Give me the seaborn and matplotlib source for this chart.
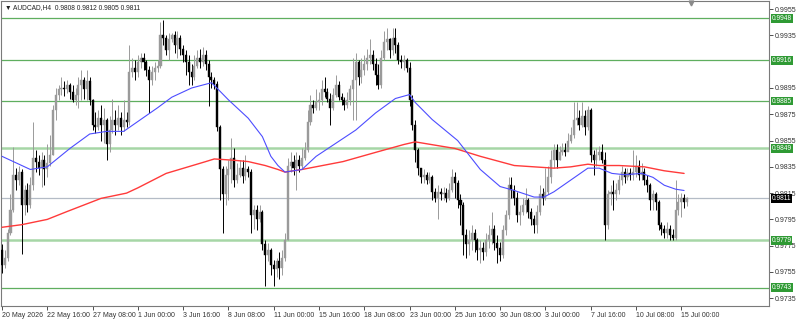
import matplotlib
matplotlib.use("Agg")
import matplotlib.pyplot as plt
import matplotlib.transforms as mtransforms
import numpy as np
import pandas as pd
import seaborn as sns

# ---------------- data ----------------
first_open = 0.9772
closes = [
    0.9760, 0.9766, 0.9785, 0.9802, 0.9829, 0.9825, 0.9831, 0.9806, 0.9817, 0.9806,
    0.9821, 0.9842, 0.9839, 0.9834, 0.9840, 0.9833, 0.9838, 0.9844, 0.9878, 0.9890,
    0.9894, 0.9895, 0.9894, 0.9897, 0.9892, 0.9886, 0.9890, 0.9897, 0.9901, 0.9894,
    0.9900, 0.9886, 0.9867, 0.9865, 0.9872, 0.9867, 0.9871, 0.9852, 0.9863, 0.9871,
    0.9867, 0.9872, 0.9865, 0.9871, 0.9869, 0.9907, 0.9910, 0.9907, 0.9915, 0.9918,
    0.9915, 0.9909, 0.9901, 0.9907, 0.9910, 0.9912, 0.9935, 0.9933, 0.9924, 0.9932,
    0.9935, 0.9928, 0.9933, 0.9925, 0.9920, 0.9915, 0.9907, 0.9903, 0.9912, 0.9918,
    0.9915, 0.9920, 0.9913, 0.9903, 0.9901, 0.9898, 0.9865, 0.9833, 0.9814, 0.9829,
    0.9833, 0.9842, 0.9825, 0.9829, 0.9834, 0.9828, 0.9833, 0.9831, 0.9798, 0.9802,
    0.9795, 0.9801, 0.9776, 0.9768, 0.9772, 0.9760, 0.9757, 0.9763, 0.9758, 0.9766,
    0.9779, 0.9836, 0.9839, 0.9834, 0.9840, 0.9836, 0.9842, 0.9848, 0.9869, 0.9882,
    0.9880, 0.9884, 0.9886, 0.9894, 0.9892, 0.9887, 0.9880, 0.9890, 0.9897, 0.9888,
    0.9886, 0.9882, 0.9886, 0.9894, 0.9901, 0.9915, 0.9903, 0.9909, 0.9913, 0.9918,
    0.9920, 0.9913, 0.9905, 0.9897, 0.9918, 0.9930, 0.9932, 0.9924, 0.9933, 0.9928,
    0.9916, 0.9915, 0.9916, 0.9910, 0.9886, 0.9867, 0.9848, 0.9834, 0.9827, 0.9829,
    0.9825, 0.9827, 0.9816, 0.9811, 0.9816, 0.9814, 0.9815, 0.9811, 0.9817, 0.9827,
    0.9823, 0.9810, 0.9806, 0.9783, 0.9776, 0.9779, 0.9785, 0.9779, 0.9772, 0.9773,
    0.9770, 0.9779, 0.9783, 0.9788, 0.9777, 0.9773, 0.9768, 0.9787, 0.9798, 0.9821,
    0.9817, 0.9811, 0.9798, 0.9801, 0.9806, 0.9810, 0.9801, 0.9795, 0.9791, 0.9801,
    0.9814, 0.9811, 0.9816, 0.9827, 0.9840, 0.9848, 0.9840, 0.9846, 0.9848, 0.9846,
    0.9855, 0.9859, 0.9871, 0.9872, 0.9867, 0.9874, 0.9865, 0.9878, 0.9844, 0.9840,
    0.9844, 0.9846, 0.9840, 0.9791, 0.9814, 0.9816, 0.9814, 0.9817, 0.9825, 0.9831,
    0.9827, 0.9830, 0.9829, 0.9831, 0.9836, 0.9829, 0.9831, 0.9825, 0.9821, 0.9810,
    0.9814, 0.9808, 0.9791, 0.9788, 0.9785, 0.9788, 0.9783, 0.9781, 0.9802, 0.9808,
    0.9811, 0.9808, 0.9811,
]
highs = [
    0.9776, 0.9772, 0.9788, 0.9814, 0.9850, 0.9834, 0.9836, 0.9833, 0.9821, 0.9823,
    0.9827, 0.9869, 0.9848, 0.9844, 0.9846, 0.9844, 0.9852, 0.9859, 0.9882, 0.9895,
    0.9897, 0.9903, 0.9900, 0.9901, 0.9899, 0.9897, 0.9895, 0.9903, 0.9909, 0.9903,
    0.9909, 0.9903, 0.9887, 0.9877, 0.9878, 0.9882, 0.9880, 0.9872, 0.9874, 0.9887,
    0.9878, 0.9882, 0.9877, 0.9886, 0.9877, 0.9928, 0.9918, 0.9916, 0.9920, 0.9922,
    0.9922, 0.9916, 0.9912, 0.9912, 0.9915, 0.9916, 0.9945, 0.9947, 0.9935, 0.9937,
    0.9937, 0.9938, 0.9938, 0.9935, 0.9928, 0.9924, 0.9920, 0.9913, 0.9920, 0.9924,
    0.9925, 0.9926, 0.9924, 0.9916, 0.9907, 0.9903, 0.9900, 0.9867, 0.9836, 0.9836,
    0.9840, 0.9857, 0.9849, 0.9838, 0.9840, 0.9840, 0.9844, 0.9836, 0.9833, 0.9806,
    0.9806, 0.9806, 0.9802, 0.9779, 0.9777, 0.9773, 0.9764, 0.9766, 0.9770, 0.9772,
    0.9785, 0.9842, 0.9846, 0.9844, 0.9846, 0.9844, 0.9849, 0.9854, 0.9878, 0.9890,
    0.9886, 0.9894, 0.9892, 0.9901, 0.9903, 0.9895, 0.9891, 0.9895, 0.9905, 0.9900,
    0.9891, 0.9888, 0.9892, 0.9897, 0.9918, 0.9922, 0.9916, 0.9918, 0.9920, 0.9925,
    0.9932, 0.9924, 0.9918, 0.9913, 0.9924, 0.9938, 0.9941, 0.9933, 0.9941, 0.9941,
    0.9930, 0.9920, 0.9920, 0.9918, 0.9915, 0.9890, 0.9871, 0.9849, 0.9834, 0.9833,
    0.9831, 0.9831, 0.9829, 0.9819, 0.9821, 0.9819, 0.9820, 0.9819, 0.9823, 0.9833,
    0.9831, 0.9825, 0.9814, 0.9808, 0.9788, 0.9787, 0.9791, 0.9788, 0.9781, 0.9779,
    0.9778, 0.9785, 0.9791, 0.9801, 0.9791, 0.9783, 0.9778, 0.9791, 0.9802, 0.9827,
    0.9827, 0.9821, 0.9816, 0.9806, 0.9811, 0.9819, 0.9811, 0.9804, 0.9798, 0.9806,
    0.9821, 0.9819, 0.9834, 0.9836, 0.9848, 0.9852, 0.9852, 0.9851, 0.9853, 0.9853,
    0.9861, 0.9865, 0.9884, 0.9884, 0.9878, 0.9884, 0.9878, 0.9881, 0.9880, 0.9848,
    0.9849, 0.9851, 0.9852, 0.9846, 0.9817, 0.9821, 0.9825, 0.9823, 0.9829, 0.9836,
    0.9834, 0.9834, 0.9834, 0.9848, 0.9844, 0.9840, 0.9838, 0.9834, 0.9829, 0.9823,
    0.9817, 0.9816, 0.9810, 0.9793, 0.9791, 0.9793, 0.9791, 0.9788, 0.9825, 0.9814,
    0.9815, 0.9814, 0.9812,
]
lows = [
    0.9754, 0.9758, 0.9763, 0.9783, 0.9801, 0.9817, 0.9821, 0.9769, 0.9798, 0.9801,
    0.9804, 0.9817, 0.9831, 0.9829, 0.9820, 0.9821, 0.9827, 0.9836, 0.9844, 0.9871,
    0.9886, 0.9890, 0.9889, 0.9891, 0.9887, 0.9884, 0.9882, 0.9880, 0.9886, 0.9887,
    0.9886, 0.9882, 0.9863, 0.9861, 0.9863, 0.9855, 0.9853, 0.9840, 0.9846, 0.9861,
    0.9859, 0.9863, 0.9859, 0.9862, 0.9865, 0.9867, 0.9903, 0.9901, 0.9903, 0.9910,
    0.9909, 0.9904, 0.9876, 0.9897, 0.9901, 0.9907, 0.9910, 0.9928, 0.9920, 0.9916,
    0.9930, 0.9922, 0.9918, 0.9920, 0.9915, 0.9905, 0.9897, 0.9897, 0.9901, 0.9910,
    0.9910, 0.9912, 0.9909, 0.9881, 0.9895, 0.9894, 0.9862, 0.9810, 0.9785, 0.9806,
    0.9810, 0.9823, 0.9820, 0.9823, 0.9827, 0.9823, 0.9825, 0.9827, 0.9785, 0.9788,
    0.9787, 0.9793, 0.9772, 0.9744, 0.9763, 0.9753, 0.9744, 0.9751, 0.9750, 0.9753,
    0.9763, 0.9779, 0.9831, 0.9829, 0.9817, 0.9831, 0.9834, 0.9840, 0.9846, 0.9867,
    0.9876, 0.9878, 0.9878, 0.9882, 0.9888, 0.9884, 0.9867, 0.9878, 0.9888, 0.9886,
    0.9882, 0.9878, 0.9880, 0.9882, 0.9871, 0.9871, 0.9897, 0.9899, 0.9905, 0.9909,
    0.9913, 0.9909, 0.9897, 0.9894, 0.9895, 0.9916, 0.9924, 0.9918, 0.9920, 0.9922,
    0.9913, 0.9910, 0.9909, 0.9907, 0.9881, 0.9863, 0.9839, 0.9829, 0.9823, 0.9823,
    0.9822, 0.9823, 0.9810, 0.9808, 0.9795, 0.9810, 0.9810, 0.9808, 0.9810, 0.9816,
    0.9811, 0.9804, 0.9791, 0.9768, 0.9766, 0.9768, 0.9772, 0.9770, 0.9764, 0.9762,
    0.9764, 0.9767, 0.9773, 0.9776, 0.9772, 0.9762, 0.9763, 0.9766, 0.9783, 0.9795,
    0.9811, 0.9806, 0.9793, 0.9791, 0.9798, 0.9800, 0.9796, 0.9791, 0.9785, 0.9785,
    0.9798, 0.9806, 0.9810, 0.9814, 0.9823, 0.9834, 0.9834, 0.9840, 0.9844, 0.9843,
    0.9848, 0.9853, 0.9857, 0.9867, 0.9863, 0.9865, 0.9859, 0.9863, 0.9839, 0.9829,
    0.9836, 0.9840, 0.9838, 0.9779, 0.9788, 0.9806, 0.9802, 0.9810, 0.9814, 0.9821,
    0.9823, 0.9825, 0.9825, 0.9825, 0.9827, 0.9825, 0.9825, 0.9821, 0.9816, 0.9802,
    0.9802, 0.9802, 0.9787, 0.9783, 0.9781, 0.9781, 0.9779, 0.9779, 0.9779, 0.9798,
    0.9797, 0.9804, 0.9805,
]

# moving averages (bar index, price)
fast_ma_bar = [0, 10, 16, 24, 31, 37, 43, 49, 55, 60, 67, 74, 75, 80, 87, 92, 95, 97.5,
               100, 106, 111, 118, 125, 132, 139, 144, 146, 152, 161, 169, 176, 181, 188,
               191.5, 195, 201, 207, 211, 215.5, 220, 226, 230, 234, 238, 241]
fast_ma_val = [0.9843, 0.9833, 0.9835, 0.9849, 0.9860, 0.9862, 0.9862, 0.9871, 0.9880,
               0.9888, 0.9895, 0.9899, 0.9897, 0.9886, 0.9872, 0.9858, 0.9843, 0.9836,
               0.9831, 0.9833, 0.9843, 0.9853, 0.9863, 0.9876, 0.9887, 0.9890, 0.9884,
               0.9871, 0.9855, 0.9833, 0.9820, 0.9817, 0.9812, 0.9812, 0.9816, 0.9825,
               0.9834, 0.9834, 0.9830, 0.9829, 0.9830, 0.9827, 0.9821, 0.9818, 0.9817]
slow_ma_bar = [0, 7, 16, 23, 35, 44, 48, 58, 72, 75, 82, 87, 93, 97.5, 100, 106, 120.5,
               132, 142, 146, 160, 169, 181, 195, 201, 207, 211, 218, 227, 234, 241]
slow_ma_val = [0.9789, 0.9791, 0.9795, 0.9801, 0.9811, 0.9815, 0.9819, 0.9830, 0.9839,
               0.9841, 0.9840, 0.9839, 0.9836, 0.9833, 0.9831, 0.9833, 0.9839, 0.9846,
               0.9852, 0.9854, 0.9849, 0.9843, 0.9836, 0.9834, 0.9835, 0.9837, 0.9836,
               0.9836, 0.9835, 0.9832, 0.9830]

level_values = [0.9948, 0.9916, 0.9885, 0.9849, 0.9779, 0.9743]
level_strong = [True, True, True, False, False, True]
current_price = 0.9811

time_labels = ["20 May 2026", "22 May 16:00", "27 May 08:00", "1 Jun 00:00", "3 Jun 16:00",
               "8 Jun 08:00", "11 Jun 00:00", "15 Jun 16:00", "18 Jun 08:00", "23 Jun 00:00",
               "25 Jun 16:00", "30 Jun 08:00", "3 Jul 00:00", "7 Jul 16:00", "10 Jul 08:00",
               "15 Jul 00:00"]
time_label_bars = [0, 16, 32, 48, 64, 80, 96, 112, 128, 144, 160, 176, 192, 208, 224, 240]
price_ticks = [0.9955, 0.9935, 0.9895, 0.9875, 0.9855, 0.9835, 0.9815, 0.9795, 0.9775,
               0.9755, 0.9735]
title_text = "\u25BC AUDCAD,H4  0.9808 0.9812 0.9805 0.9811"

# ---------------- build frame ----------------
opens = [first_open] + closes[:-1]
df = pd.DataFrame({"bar": np.arange(len(closes)), "open": opens, "high": highs,
                   "low": lows, "close": closes})
df["bull"] = df["close"] >= df["open"]

sns.set_theme(style="white")
plt.rcParams["font.family"] = ["Liberation Sans", "DejaVu Sans"]

fig = plt.figure(figsize=(8, 3.22), dpi=100)
ax = fig.add_axes([1 / 800, 16 / 322, 768 / 800, 305 / 322])
ax.set_facecolor("white")

# horizontal levels
for lv, strong in zip(level_values, level_strong):
    if strong:
        ax.axhline(lv, color="#5fae5f", lw=0.9, zorder=1)
    else:
        ax.axhline(lv, color="#a6d6a6", lw=1.8, zorder=1)
ax.axhline(current_price, color="#b4bcc6", lw=0.9, zorder=1)

# candles
bull_col = "#9a9a9a"
bear_col = "#000000"
cols = np.where(df["bull"], bull_col, bear_col)
ax.vlines(df["bar"], df["low"], df["high"], colors=cols, lw=0.7, zorder=3)
body_bottom = np.minimum(df["open"], df["close"])
body_h = np.maximum(np.abs(df["close"] - df["open"]), 0.00004)
ax.bar(df["bar"], body_h, bottom=body_bottom, width=0.72, color=cols,
       edgecolor=cols, linewidth=0.3, zorder=4)

# moving averages
fast = pd.DataFrame({"bar": fast_ma_bar, "val": fast_ma_val})
slow = pd.DataFrame({"bar": slow_ma_bar, "val": slow_ma_val})
sns.lineplot(data=slow, x="bar", y="val", ax=ax, color="#ff3a3a", lw=1.0,
             estimator=None, sort=False, zorder=5)
sns.lineplot(data=fast, x="bar", y="val", ax=ax, color="#4d4dff", lw=0.8,
             estimator=None, sort=False, zorder=5)

# limits
ax.set_xlim(-0.35, 271)
ax.set_ylim(0.97291, 0.99612)
ax.set_xlabel("")
ax.set_ylabel("")

# axes styling
for s in ax.spines.values():
    s.set_color("#7a7a7a")
    s.set_linewidth(0.8)

ax.yaxis.tick_right()
ax.set_yticks(price_ticks)
ax.set_yticklabels([f"{p:.4f}" for p in price_ticks])
ax.tick_params(axis="y", direction="out", length=3, width=0.6, pad=1,
               labelsize=5, colors="#333333", right=True, left=False)
ax.set_xticks(time_label_bars)
ax.set_xticklabels(time_labels)
for lab in ax.get_xticklabels():
    lab.set_horizontalalignment("left")
ax.tick_params(axis="x", direction="out", length=3, width=0.6, pad=1.5,
               labelsize=5, colors="#333333", bottom=True)

# price boxes on right
trans = mtransforms.blended_transform_factory(ax.transAxes, ax.transData)
for lv in level_values:
    ax.text(1.0035, lv, f"{lv:.4f}", transform=trans, ha="left", va="center",
            fontsize=4.8, color="white", zorder=10, clip_on=False,
            bbox=dict(boxstyle="square,pad=0.12", fc="#2f9a34", ec="none"))
ax.text(1.0035, current_price, f"{current_price:.4f}", transform=trans, ha="left",
        va="center", fontsize=4.8, color="white", zorder=10, clip_on=False,
        bbox=dict(boxstyle="square,pad=0.12", fc="#000000", ec="none"))

# title
ax.text(0.005, 0.977, title_text, transform=ax.transAxes, ha="left", va="center",
        fontsize=4.8, color="#222222", zorder=10)

# chart shift marker
ax.plot([243.3], [0.99598], marker="v", color="#8a8a8a", markersize=3.5, zorder=10,
        clip_on=False)

fig.savefig("out.png", dpi=100, facecolor="white")
